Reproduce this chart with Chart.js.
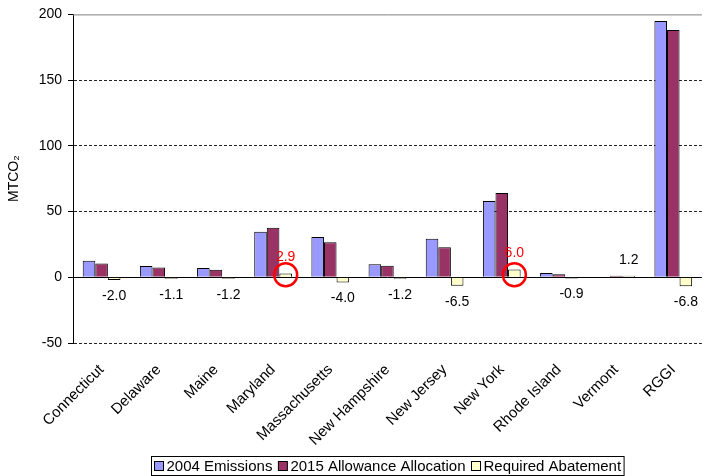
<!DOCTYPE html>
<html>
<head>
<meta charset="utf-8">
<script src="https://cdn.jsdelivr.net/npm/chart.js@4/dist/chart.umd.min.js"></script>
<style>
    html, body { margin: 0; padding: 0; background: #fff; }
    #chart { display: block; }
</style>
</head>
<body>
<canvas id="chart" width="704" height="476"></canvas>
<script>
const categories = ['Connecticut', 'Delaware', 'Maine', 'Maryland', 'Massachusetts',
    'New Hampshire', 'New Jersey', 'New York', 'Rhode Island', 'Vermont', 'RGGI'];
const emissions2004 = [12.5, 8.6, 7.0, 34.7, 30.6, 10.0, 29.4, 58.1, 3.2, 0.0, 195.0];
const allocation2015 = [10.5, 7.5, 5.8, 37.6, 26.6, 8.8, 22.9, 64.1, 2.3, 1.2, 188.2];
const abatement = [-2.0, -1.1, -1.2, 2.9, -4.0, -1.2, -6.5, 6.0, -0.9, 1.2, -6.8];
const highlighted = ['Maryland', 'New York'];
const yTicks = [-50, 0, 50, 100, 150, 200];

const FONT = 'Arial, "Liberation Sans", sans-serif';

// labels under/over the abatement bars + red rings on the highlighted states
const abatementLabels = {
    id: 'abatementLabels',
    afterDatasetsDraw(chart) {
        const ctx = chart.ctx;
        const meta = chart.getDatasetMeta(2);
        ctx.save();
        ctx.font = '14px ' + FONT;
        ctx.textAlign = 'center';
        ctx.textBaseline = 'middle';
        meta.data.forEach((bar, i) => {
            const v = abatement[i];
            const hot = highlighted.includes(categories[i]);
            ctx.fillStyle = hot ? '#ff0000' : '#000';
            const y = v < 0 ? bar.y + 16 : bar.y - 16;
            ctx.fillText(v.toFixed(1), bar.x, y);
            if (hot) {
                ctx.beginPath();
                ctx.strokeStyle = '#ff0000';
                ctx.lineWidth = 2.5;
                ctx.arc(bar.x, bar.base - 2, 11.5, 0, Math.PI * 2);
                ctx.stroke();
            }
        });
        ctx.restore();
    }
};

// solid top border and zero line, drawn under the bars
const frameLines = {
    id: 'frameLines',
    beforeDatasetsDraw(chart) {
        const {ctx, chartArea, scales} = chart;
        ctx.save();
        ctx.lineWidth = 1;
        ctx.strokeStyle = '#808080';
        ctx.beginPath();
        ctx.moveTo(chartArea.left, chartArea.top + 0.5);
        ctx.lineTo(chartArea.right, chartArea.top + 0.5);
        ctx.stroke();
        const y0 = Math.round(scales.y.getPixelForValue(0)) + 0.5;
        ctx.strokeStyle = '#000';
        ctx.beginPath();
        ctx.moveTo(chartArea.left, y0);
        ctx.lineTo(chartArea.right, y0);
        ctx.stroke();
        ctx.restore();
    }
};

// boxed legend under the axis labels
const boxedLegend = {
    id: 'boxedLegend',
    afterDraw(chart) {
        const {ctx, chartArea} = chart;
        const sets = chart.data.datasets;
        ctx.save();
        ctx.font = '15px ' + FONT;
        ctx.textBaseline = 'middle';
        const sq = 9, gapText = 3, gapItem = 6, pad = 3;
        const widths = sets.map(d => ctx.measureText(d.label).width);
        let total = pad * 2 + gapItem * (sets.length - 1);
        widths.forEach(w => total += sq + gapText + w);
        const left = Math.round((chartArea.left + chartArea.right) / 2 - total / 2) + 0.5;
        const top = 456.5, h = 19;
        ctx.fillStyle = '#fff';
        ctx.fillRect(left, top, total, h);
        ctx.strokeStyle = '#000';
        ctx.lineWidth = 1;
        ctx.strokeRect(left, top, total, h);
        let x = left + pad;
        const cy = top + h / 2;
        sets.forEach((d, i) => {
            ctx.fillStyle = d.backgroundColor;
            ctx.fillRect(x, cy - sq / 2, sq, sq);
            ctx.strokeStyle = '#000';
            ctx.strokeRect(x, cy - sq / 2, sq, sq);
            x += sq + gapText;
            ctx.fillStyle = '#000';
            ctx.fillText(d.label, x, cy + 1);
            x += widths[i] + gapItem;
        });
        ctx.restore();
    }
};

new Chart(document.getElementById('chart'), {
    type: 'bar',
    data: {
        labels: categories,
        datasets: [
            {
                label: '2004 Emissions',
                data: emissions2004,
                backgroundColor: '#9999ff',
                borderColor: '#000',
                borderWidth: 1
            },
            {
                label: '2015 Allowance Allocation',
                data: allocation2015,
                backgroundColor: '#993366',
                borderColor: '#000',
                borderWidth: 1
            },
            {
                label: 'Required Abatement',
                data: abatement,
                backgroundColor: '#ffffcc',
                borderColor: '#000',
                borderWidth: 1
            }
        ]
    },
    options: {
        responsive: false,
        animation: false,
        devicePixelRatio: 1,
        categoryPercentage: 0.66,
        barPercentage: 1.0,
        layout: {
            padding: {top: 12, right: 0, bottom: 0, left: 0}
        },
        plugins: {
            legend: {display: false},
            tooltip: {enabled: false}
        },
        scales: {
            x: {
                grid: {display: false, drawTicks: false},
                border: {display: false},
                ticks: {
                    color: '#000',
                    font: {family: FONT, size: 15},
                    minRotation: 45,
                    maxRotation: 45,
                    padding: 18
                },
                afterFit(scale) {
                    scale.height = 133;
                }
            },
            y: {
                min: -50,
                max: 200,
                afterBuildTicks(scale) {
                    scale.ticks = yTicks.map(v => ({value: v}));
                },
                grid: {
                    color: ctx => (ctx.tick && (ctx.tick.value === 0 || ctx.tick.value === 200)) ? 'rgba(0,0,0,0)' : '#222',
                    lineWidth: 1,
                    tickLength: 5,
                    tickColor: '#000',
                    tickBorderDash: []
                },
                border: {display: true, color: '#000', width: 1, dash: [3, 2]},
                ticks: {
                    color: '#000',
                    font: {family: FONT, size: 14},
                    padding: 6
                },
                title: {
                    display: true,
                    text: 'MTCO₂',
                    color: '#000',
                    font: {family: FONT, size: 14},
                    padding: {top: 6, bottom: 0}
                },
                afterFit(scale) {
                    scale.width = 73;
                }
            }
        }
    },
    plugins: [frameLines, abatementLabels, boxedLegend]
});
</script>
</body>
</html>
